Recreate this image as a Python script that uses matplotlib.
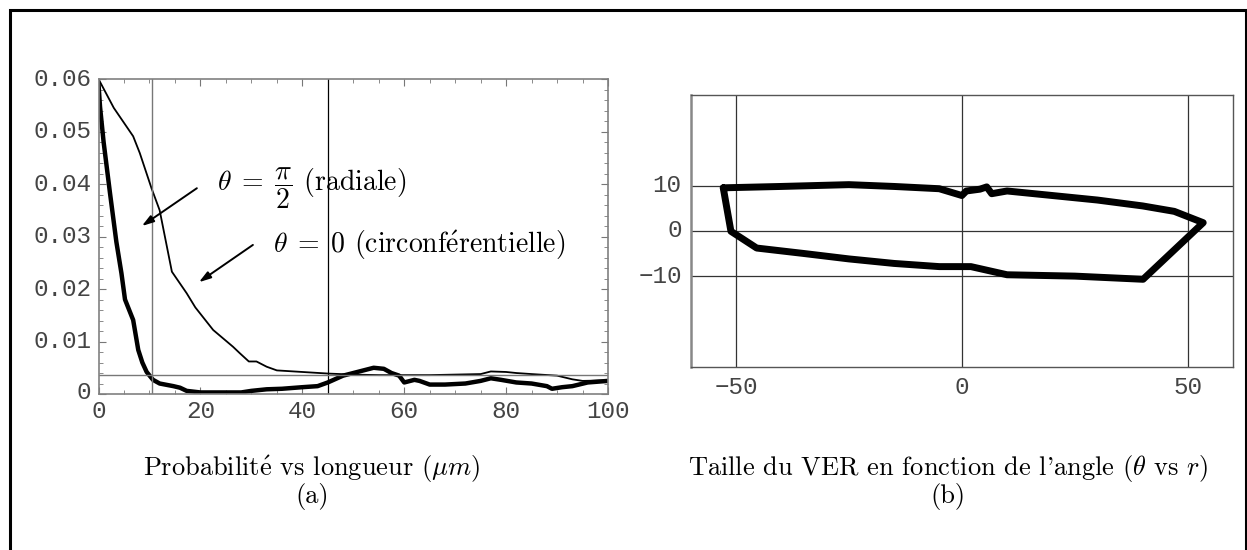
import numpy as np
import matplotlib.pyplot as plt
from matplotlib.patches import Rectangle
from matplotlib.ticker import MultipleLocator

plt.rcParams['mathtext.fontset'] = 'cm'

# probability vs length, circumferential direction (theta = 0)
len_circ = [0, 3, 6.8, 8.1, 10.4, 12.0, 14.4, 17.3, 19, 22.5, 26.4, 27.7, 29.5, 31,
            33, 35, 40, 45, 50, 55, 60, 65, 70, 75, 77, 80, 82, 85, 90, 93, 95, 100]
prob_circ = [0.060, 0.0545, 0.0491, 0.0459, 0.0392, 0.0350, 0.0233, 0.0192, 0.0165,
             0.0122, 0.0090, 0.0078, 0.0062, 0.0062, 0.0052, 0.0045, 0.0042, 0.0039,
             0.0037, 0.0036, 0.0036, 0.0036, 0.0037, 0.0038, 0.0043, 0.0042, 0.0040,
             0.0038, 0.0035, 0.0028, 0.0025, 0.0026]

# probability vs length, radial direction (theta = pi/2)
len_rad = [0, 0.3, 1, 2.25, 3.5, 4.5, 5.2, 6.8, 7.8, 8.6, 9.45, 10.7, 12, 14.7, 16,
           17.3, 20, 25, 28, 30, 33, 36, 40, 43, 45, 48, 50, 52, 54, 56, 57.5, 59,
           60, 62, 63, 65, 68, 72, 75, 77, 79, 82, 85, 88, 89, 91, 93, 96, 100]
prob_rad = [0.059, 0.0547, 0.048, 0.0383, 0.029, 0.023, 0.018, 0.0141, 0.0084, 0.006,
            0.0042, 0.0027, 0.0020, 0.0015, 0.0012, 0.0006, 0.0003, 0.0003, 0.0003,
            0.0006, 0.0009, 0.0010, 0.0013, 0.0015, 0.0022, 0.0035, 0.0040, 0.0045,
            0.0050, 0.0048, 0.0040, 0.0035, 0.0022, 0.0027, 0.0025, 0.0018, 0.0018,
            0.0020, 0.0025, 0.0030, 0.0027, 0.0022, 0.0020, 0.0015, 0.0010, 0.0013,
            0.0015, 0.0022, 0.0025]

# reference lines on panel (a)
vline_a = [10.5, 45]
hline_a = 0.0036

# VER size as a function of the angle (closed contour)
ver_x = [-52.8, -40, -25, -15, -5, 0, 1, 4, 5.5, 6.6, 10, 20, 30, 40, 47, 53.4,
         40.1, 25, 10, 2, -5, -15, -25, -35, -45.4, -51.1, -52.8]
ver_y = [9.5, 9.8, 10.2, 9.8, 9.3, 7.8, 8.8, 9.2, 9.7, 8.2, 8.8, 7.8, 6.8, 5.5, 4.3, 1.8,
         -10.7, -10.0, -9.7, -7.9, -7.9, -7.2, -6.2, -5.0, -3.8, -0.1, 9.5]

tick_font = dict(family='Liberation Mono', size=17.5, color='#444444')
cap_font = dict(family='cmr10', size=19)

fig = plt.figure(figsize=(12.47, 5.5), dpi=100)
fig.add_artist(Rectangle((10 / 1247, -0.02), 1235.5 / 1247, 1 - 10 / 550 + 0.02,
                         transform=fig.transFigure, fill=False, lw=2.2, ec='black'))

# panel (a)
ax1 = fig.add_axes([0.0790, 0.2836, 0.4086, 0.5727])
ax1.plot(len_circ, prob_circ, color='black', lw=1.3)
ax1.plot(len_rad, prob_rad, color='black', lw=3.2)
ax1.axvline(vline_a[0], color='#777777', lw=1.0)
ax1.axvline(vline_a[1], color='black', lw=0.9)
ax1.axhline(hline_a, color='#777777', lw=1.0)
ax1.set_xlim(0, 100)
ax1.set_ylim(0, 0.06)
ax1.xaxis.set_major_locator(MultipleLocator(20))
ax1.xaxis.set_minor_locator(MultipleLocator(5))
ax1.yaxis.set_major_locator(MultipleLocator(0.01))
ax1.yaxis.set_minor_locator(MultipleLocator(0.002))
ax1.set_xticklabels([])
ax1.set_yticklabels([])
ax1.tick_params(which='both', direction='in', top=True, right=True, color='#777777')
ax1.tick_params(which='major', length=5, width=0.8)
ax1.tick_params(which='minor', length=3, width=0.6)
for s in ax1.spines.values():
    s.set_color('#808080')
    s.set_linewidth(1.2)
for v in range(0, 101, 20):
    ax1.text(v, -0.0012, str(v), ha='center', va='top', **tick_font)
for v in [0.01, 0.02, 0.03, 0.04, 0.05, 0.06]:
    ax1.text(-1.4, v, f'{v:.2f}', ha='right', va='center', **tick_font)
ax1.text(-1.4, 0.0003, '0', ha='right', va='center', **tick_font)

arrow = dict(arrowstyle='-|>,head_length=0.7,head_width=0.22', color='black', lw=1.4,
             shrinkA=0, shrinkB=0)
ax1.annotate('', xy=(8.5, 0.0320), xytext=(19.3, 0.0392), arrowprops=arrow)
ax1.annotate('', xy=(19.7, 0.0213), xytext=(30.3, 0.0284), arrowprops=arrow)
ax1.text(23.2, 0.0392, r'$\theta\;=\;\dfrac{\pi}{2}$ (radiale)', ha='left', va='center',
         family='cmr10', size=20)
ax1.text(34.2, 0.0284, r'$\theta\;=\;0$ (circonf$\mathrm{\acute{e}}$rentielle)',
         ha='left', va='center', family='cmr10', size=20)

# panel (b)
ax2 = fig.add_axes([0.5539, 0.3333, 0.4349, 0.4940])
ax2.plot(ver_x, ver_y, color='black', lw=5, solid_joinstyle='round',
         solid_capstyle='round')
ax2.set_xlim(-60, 60)
ax2.set_ylim(-30, 30)
for v in [-50, 0, 50]:
    ax2.axvline(v, color='#333333', lw=0.9, zorder=0)
for v in [-10, 0, 10]:
    ax2.axhline(v, color='#333333', lw=0.9, zorder=0)
ax2.set_xticks([])
ax2.set_yticks([])
for s in ax2.spines.values():
    s.set_color('#555555')
    s.set_linewidth(1.0)
ax2.spines['left'].set_color('#888888')
ax2.spines['left'].set_linewidth(1.8)
for v in [-50, 0, 50]:
    ax2.text(v, -32, str(v).replace('-', '\u2212'), ha='center', va='top', **tick_font)
for v in [-10, 0, 10]:
    ax2.text(-62, v, str(v).replace('-', '\u2212'), ha='right', va='center', **tick_font)

# captions
fig.text(312 / 1247, 1 - 469 / 550, r'Probabilit$\mathrm{\acute{e}}$ vs longueur ($\mu m$)',
         ha='center', va='center', **cap_font)
fig.text(312 / 1247, 1 - 496 / 550, '(a)', ha='center', va='center', **cap_font)
fig.text(948 / 1247, 1 - 469 / 550, r"Taille du VER en fonction de l'angle ($\theta$ vs $r$)",
         ha='center', va='center', **cap_font)
fig.text(948 / 1247, 1 - 496 / 550, '(b)', ha='center', va='center', **cap_font)

fig.savefig('out.png', dpi=100)
